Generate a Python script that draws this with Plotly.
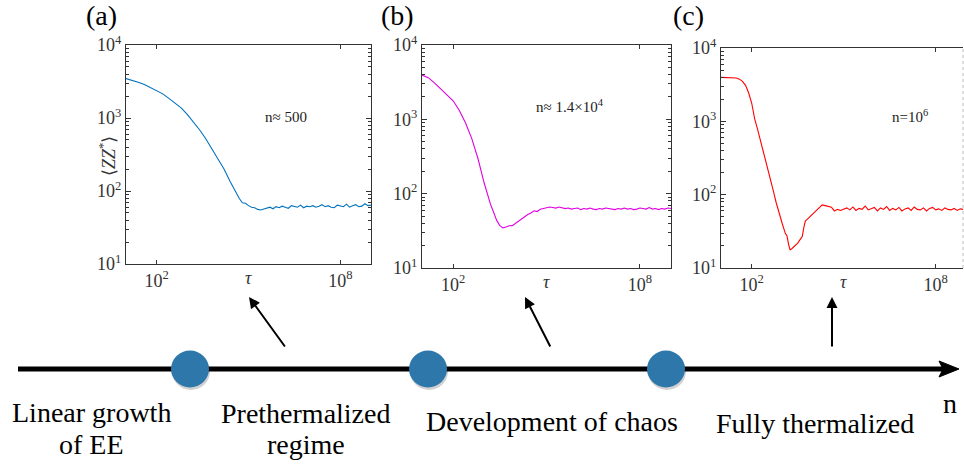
import plotly.graph_objects as go

W, H = 964, 467

# ---------------- data ----------------
# log10(tau) positions and <ZZ*> values for each panel
logtau_a = [1.0, 1.2, 1.4, 1.6, 1.8, 2.0, 2.2, 2.4, 2.6, 2.8, 3.0, 3.2, 3.4, 3.6, 3.8, 4.0,
            4.2, 4.4, 4.6, 4.7, 4.8, 4.9, 5.0, 5.1, 5.2, 5.3, 5.4,
            5.5, 5.6, 5.7, 5.8, 5.9, 6.0, 6.1, 6.2, 6.3, 6.4, 6.5, 6.6, 6.7, 6.8, 6.9, 7.0,
            7.1, 7.2, 7.3, 7.4, 7.5, 7.6, 7.7, 7.8, 7.9, 8.0, 8.1, 8.2, 8.3, 8.4, 8.5, 8.6,
            8.7, 8.8, 8.9, 9.0]
zz_a = [3470, 3310, 3090, 2880, 2630, 2400, 2140, 1860, 1620, 1380, 1120, 890, 690, 525, 380, 275,
        200, 135, 93, 79, 69, 68, 63, 60, 59, 56, 55,
        57, 58, 60, 57, 61, 59, 62, 60, 58, 63, 61, 60, 64, 59, 62, 61,
        63, 60, 62, 65, 61, 63, 60, 59, 64, 62, 61, 66, 60, 63, 65, 61,
        62, 67, 63, 64]

logtau_b = [1.0, 1.2, 1.4, 1.6, 1.8, 2.0, 2.2, 2.4, 2.6, 2.8, 3.0, 3.1, 3.2, 3.3, 3.4, 3.5,
            3.6, 3.7, 3.8, 3.9, 4.0, 4.1, 4.2, 4.3, 4.4, 4.5, 4.6, 4.7, 4.8, 4.9, 5.0,
            5.1, 5.2, 5.3, 5.4, 5.5, 5.6, 5.7, 5.8, 5.9, 6.0, 6.1, 6.2, 6.3, 6.4, 6.5,
            6.6, 6.7, 6.8, 6.9, 7.0, 7.1, 7.2, 7.3, 7.4, 7.5, 7.6, 7.7, 7.8, 7.9, 8.0,
            8.1, 8.2, 8.3, 8.4, 8.5, 8.6, 8.7, 8.8, 8.9, 9.0]
zz_b = [3936, 3631, 3090, 2570, 2188, 1778, 1318, 891, 550, 295, 138, 95.5, 72.4, 56.2, 43.7, 37.2,
        34.7, 35.5, 37.0, 37.2, 39.8, 42.7, 45.7, 50.1, 52.5, 55.0, 58.9, 57.5, 61.7, 63.1, 64.6,
        66, 65, 64, 66, 64, 63, 64, 62, 63, 64, 61, 63, 62, 64, 62,
        61, 63, 62, 64, 63, 62, 61, 63, 62, 64, 62, 63, 61, 62, 64,
        63, 62, 65, 62, 63, 61, 63, 62, 64, 63]

logtau_c = [1.0, 1.2, 1.4, 1.5, 1.6, 1.7, 1.8, 1.9, 2.0, 2.1, 2.2, 2.3, 2.4, 2.5, 2.6, 2.7,
            2.8, 2.9, 3.0, 3.1, 3.15, 3.2, 3.25, 3.3, 3.4, 3.5, 3.6, 3.65, 3.7, 3.75, 3.8,
            3.9, 4.0, 4.1, 4.2, 4.3, 4.4, 4.5, 4.6,
            4.7, 4.8, 4.9, 5.0, 5.1, 5.2, 5.3, 5.4, 5.5, 5.6, 5.7, 5.8, 5.9, 6.0, 6.1,
            6.2, 6.3, 6.4, 6.5, 6.6, 6.7, 6.8, 6.9, 7.0, 7.1, 7.2, 7.3, 7.4, 7.5, 7.6,
            7.7, 7.8, 7.9, 8.0, 8.1, 8.2, 8.3, 8.4, 8.5, 8.6, 8.7, 8.8, 8.9]
zz_c = [3981, 3981, 3936, 3890, 3758, 3508, 3090, 2455, 1778, 1072, 759, 525, 380, 251, 166, 115,
        77.6, 53.7, 39.8, 29.5, 27.5, 21.4, 17.8, 18.2, 20.0, 21.9, 25.1, 26.9, 35.5, 43.7, 45.7,
        50.1, 53.7, 58.9, 66.1, 72.4, 70.8, 69.2, 67.6,
        60, 63, 61, 64, 66, 62, 68, 61, 65, 63, 70, 62, 64, 67, 60,
        66, 63, 69, 61, 65, 62, 67, 60, 64, 66, 61, 68, 63, 62, 66,
        60, 65, 67, 62, 64, 61, 66, 63, 62, 65, 61, 64, 63]

panel_labels = ["(a)", "(b)", "(c)"]
n_labels = ["n≈ 500", "n≈ 1.4×10<sup>4</sup>", "n=10<sup>6</sup>"]
line_colors = ["#0072BD", "#E000E0", "#FF0000"]
y_ticks = [10, 100, 1000, 10000]
y_ticktext = ["10<sup>1</sup>", "10<sup>2</sup>", "10<sup>3</sup>", "10<sup>4</sup>"]
x_ticks = [1e2, 1e8]
x_ticktext = ["10<sup>2</sup>", "10<sup>8</sup>"]
stage_labels = [["Linear growth", "of EE"], ["Prethermalized", "regime"],
                ["Development of chaos"], ["Fully thermalized"]]

# ---------------- helpers ----------------
def px(x):
    return x / W


def py(y):
    return 1 - y / H


SERIF = "Liberation Serif, Times New Roman, serif"
AXC = "#333333"
minor_vals = [k * 10 ** e for e in range(1, 4) for k in range(2, 10)]

# panel pixel boxes: left, right, top, bottom ; x-range in log10
boxes = [(126, 371, 45, 264, [1, 9]),
         (422, 671, 45, 268, [1, 9]),
         (721, 963, 48, 268, [1, 1 + (963 - 721) / 30.67])]

data = [(logtau_a, zz_a), (logtau_b, zz_b), (logtau_c, zz_c)]

fig = go.Figure()
annotations = []
shapes = []


def txt_ann(x, y, text, size, color="black", **kw):
    d = dict(x=px(x), y=py(y), xref="paper", yref="paper", text=text,
             showarrow=False, xanchor="center", yanchor="middle",
             font=dict(family=SERIF, size=size, color=color))
    d.update(kw)
    return d


for i, ((l, r, t, b, xr), (lt, zz)) in enumerate(zip(boxes, data)):
    xa = "x" if i == 0 else f"x{i+1}"
    ya = "y" if i == 0 else f"y{i+1}"
    fig.add_trace(go.Scatter(x=[10 ** v for v in lt], y=zz, mode="lines",
                             line=dict(color=line_colors[i], width=1.1),
                             xaxis=xa, yaxis=ya, showlegend=False,
                             hoverinfo="skip"))
    xkey = "xaxis" if i == 0 else f"xaxis{i+1}"
    ykey = "yaxis" if i == 0 else f"yaxis{i+1}"
    mirror_y = "ticks" if i < 2 else False
    fig.layout[xkey] = dict(
        type="log", range=xr, domain=[px(l), px(r)], anchor=ya,
        tickvals=x_ticks, ticktext=x_ticktext, ticks="inside", ticklen=4,
        tickcolor=AXC, showline=True, linecolor=AXC, linewidth=1,
        mirror="ticks", showgrid=False, zeroline=False,
        tickfont=dict(family=SERIF, size=18, color="#333333"),
    )
    fig.layout[ykey] = dict(
        type="log", range=[1, 4], domain=[py(b), py(t)], anchor=xa,
        tickvals=y_ticks, ticktext=y_ticktext, ticks="inside", ticklen=5,
        tickcolor=AXC, showline=True, linecolor=AXC, linewidth=1,
        mirror=mirror_y, showgrid=False, zeroline=False,
        minor=dict(ticks="inside", ticklen=3, tickcolor=AXC, tickvals=minor_vals),
        tickfont=dict(family=SERIF, size=18, color="#333333"),
    )
    # tau label at 10^5
    annotations.append(dict(x=5, y=py(b + 14), xref=xa, yref="paper",
                            text="<i>τ</i>", showarrow=False, xanchor="center",
                            yanchor="middle",
                            font=dict(family=SERIF, size=18, color="#333333")))

# right border of panel (c) (cut at the image edge)
shapes.append(dict(type="line", xref="paper", yref="paper", x0=px(963), x1=px(963),
                   y0=py(268), y1=py(48), line=dict(color="#bbbbbb", width=1, dash="dot")))

# n labels inside panels
n_pos = [(286, 117), (570, 106), (910, 116)]
for t_, (x, y) in zip(n_labels, n_pos):
    annotations.append(txt_ann(x, y, t_, 15, "#222222"))

# panel letters
letter_pos = [(101, 15), (397, 15), (688, 15)]
for t_, (x, y) in zip(panel_labels, letter_pos):
    annotations.append(txt_ann(x, y, t_, 28))

# y axis title of panel (a)
annotations.append(txt_ann(107, 156, "⟨<i>ZZ</i><sup>*</sup>⟩", 18, "#333333",
                           textangle=-90))

# ---------------- timeline ----------------
TY = 369
shapes.append(dict(type="line", xref="paper", yref="paper", x0=px(18), x1=px(945),
                   y0=py(TY), y1=py(TY), line=dict(color="black", width=5)))
shapes.append(dict(type="path", xref="paper", yref="paper",
                   path=f"M {px(939)},{py(TY-8)} L {px(959)},{py(TY)} L {px(939)},{py(TY+8)} L {px(943)},{py(TY)} Z",
                   fillcolor="black", line=dict(color="black", width=1)))
for cx in [190, 428, 666]:
    shapes.append(dict(type="circle", xref="paper", yref="paper",
                       x0=px(cx - 18), x1=px(cx + 20), y0=py(TY + 21), y1=py(TY - 16),
                       fillcolor="rgba(0,0,0,0.18)", line=dict(width=0)))
    shapes.append(dict(type="circle", xref="paper", yref="paper",
                       x0=px(cx - 19), x1=px(cx + 19), y0=py(TY + 18.5), y1=py(TY - 18.5),
                       fillcolor="#2E77AA", line=dict(width=0)))

# pointing arrows
arrows = [((249, 297), (286, 348)), ((525, 297), (551, 348)), ((832, 297), (832, 348))]
for (tx, ty), (sx, sy) in arrows:
    annotations.append(dict(x=px(tx), y=py(ty), xref="paper", yref="paper",
                            ax=sx - tx, ay=sy - ty, axref="pixel", ayref="pixel",
                            text="", showarrow=True, arrowhead=2, arrowsize=1.1,
                            arrowwidth=2, arrowcolor="black"))

# stage labels
stage_pos = [[(91, 412), (91, 444)], [(305, 413), (306, 444)], [(552, 421)], [(815, 423)]]
for lines, poss in zip(stage_labels, stage_pos):
    for t_, (x, y) in zip(lines, poss):
        annotations.append(txt_ann(x, y, t_, 28))
annotations.append(txt_ann(950, 403, "n", 28))

fig.update_layout(width=W, height=H,
                  margin=dict(l=0, r=0, t=0, b=0, autoexpand=False),
                  paper_bgcolor="white", plot_bgcolor="white",
                  annotations=annotations, shapes=shapes, showlegend=False)

fig.write_html("out.html", config={"displayModeBar": False},
               post_script="document.body.style.margin='0px';document.body.style.overflow='hidden';")
